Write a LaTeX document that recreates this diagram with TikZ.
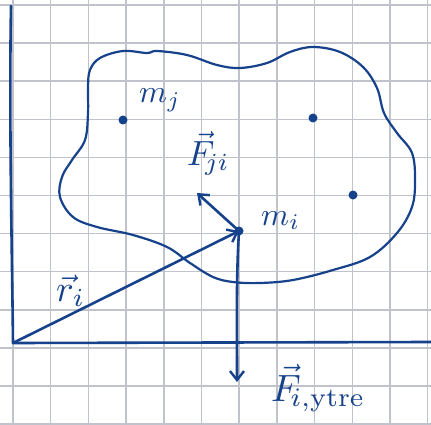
\documentclass[tikz,border=0pt]{standalone}
\usepackage{graphicx}
\usetikzlibrary{arrows.meta}
\definecolor{ink}{RGB}{22,66,140}
\definecolor{gridc}{RGB}{192,195,204}
\tikzset{
  gridline/.style={draw=gridc, line width=1.5pt},
  inkline/.style={draw=ink, line width=2.6pt, line cap=round, line join=round},
  vecarrow/.style={inkline, -{Straight Barb[length=9pt,width=14pt,line width=2.4pt]}},
  dotmark/.style={circle, fill=ink, inner sep=0pt, minimum size=9pt},
  lbl/.style={text=ink, inner sep=0pt, anchor=base west}
}
\begin{document}
\begin{tikzpicture}[x=1pt,y=-1pt]
\useasboundingbox (0,0) rectangle (431,425);
\fill[white] (0,0) rectangle (431,425);
% grid paper
\foreach \i in {0,...,11} {
  \draw[gridline] ({13+37.7*\i},0) -- ({13+37.7*\i},425);
  \draw[gridline] (0,{5+38.1*\i}) -- (431,{5+38.1*\i});
}
% axes
\coordinate (O) at (13,343);
\coordinate (ytop) at (11,6);
\coordinate (xend) at (431,342);
\draw[inkline] (ytop) .. controls (9,120) and (12,250) .. (O) -- (xend);
% body outline
\draw[inkline, line width=2.2pt] plot[smooth cycle, tension=0.6] coordinates {
 (90,70) (100,58) (123,51) (147,53) (157,51) (187,55) (217,65) (240,68)
 (267,63) (290,52) (313,47) (340,52) (363,67) (377,88) (384,113) (397,133)
 (412,153) (415,180) (412,207) (397,233) (370,257) (333,270) (293,280)
 (260,283) (233,282) (213,277) (190,263) (167,247) (133,235) (97,227)
 (73,217) (60,197) (62,177) (72,160) (85,140) (88,113) (88,87)};
% mass points
\node[dotmark] (mj) at (123,120) {};
\node[dotmark] (mk) at (313,118) {};
\node[dotmark] (ml) at (353,195) {};
\node[dotmark] (mi) at (239,231) {};
% vectors
\coordinate (Fjiend) at (197,193);
\coordinate (Fyend) at (237,382);
\draw[vecarrow] (O) -- (mi.center);
\draw[vecarrow] (mi.center) -- (Fjiend);
\draw[vecarrow] (mi.center) .. controls (236,280) and (237,330) .. (Fyend);
% labels
\node[lbl] (tmj) at (139,103) {\scalebox{3.2}{$m_j$}};
\node[lbl] (tmi) at (261,225) {\scalebox{3.2}{$m_i$}};
\node[lbl] (tri) at (56,301) {\scalebox{3.7}{$\vec{r}_i$}};
\node[lbl] (tFji) at (187,165) {\scalebox{3.5}{$\vec{F}_{\!ji}$}};
\node[lbl] (tFy) at (271,401) {\scalebox{3.8}{$\vec{F}_{\!i,\mathrm{ytre}}$}};
\end{tikzpicture}
\end{document}
